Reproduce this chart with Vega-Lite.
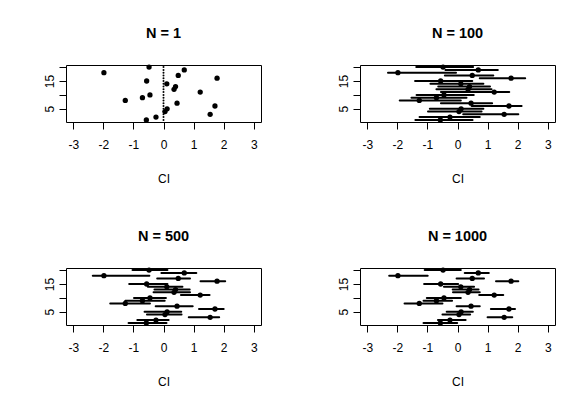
{
  "$schema": "https://vega.github.io/schema/vega-lite/v6.json",
  "padding": {"left": 42, "top": 25, "right": 5, "bottom": 5},
  "bounds": "flush",
  "columns": 2,
  "spacing": {"row": 146, "column": 99},
  "datasets": {
    "ci": [
      {"N": 1, "row": 20, "est": -0.48, "lo": 0, "hi": 0},
      {"N": 1, "row": 19, "est": 0.69, "lo": 0, "hi": 0},
      {"N": 1, "row": 18, "est": -1.98, "lo": 0, "hi": 0},
      {"N": 1, "row": 17, "est": 0.49, "lo": 0, "hi": 0},
      {"N": 1, "row": 16, "est": 1.78, "lo": 0, "hi": 0},
      {"N": 1, "row": 15, "est": -0.56, "lo": 0, "hi": 0},
      {"N": 1, "row": 14, "est": 0.11, "lo": 0, "hi": 0},
      {"N": 1, "row": 13, "est": 0.40, "lo": 0, "hi": 0},
      {"N": 1, "row": 12, "est": 0.35, "lo": 0, "hi": 0},
      {"N": 1, "row": 11, "est": 1.22, "lo": 0, "hi": 0},
      {"N": 1, "row": 10, "est": -0.45, "lo": 0, "hi": 0},
      {"N": 1, "row": 9, "est": -0.70, "lo": 0, "hi": 0},
      {"N": 1, "row": 8, "est": -1.27, "lo": 0, "hi": 0},
      {"N": 1, "row": 7, "est": 0.45, "lo": 0, "hi": 0},
      {"N": 1, "row": 6, "est": 1.71, "lo": 0, "hi": 0},
      {"N": 1, "row": 5, "est": 0.12, "lo": 0, "hi": 0},
      {"N": 1, "row": 4, "est": 0.05, "lo": 0, "hi": 0},
      {"N": 1, "row": 3, "est": 1.55, "lo": 0, "hi": 0},
      {"N": 1, "row": 2, "est": -0.25, "lo": 0, "hi": 0},
      {"N": 1, "row": 1, "est": -0.57, "lo": 0, "hi": 0},

      {"N": 100, "row": 20, "est": -0.48, "lo": -1.37, "hi": 0.52},
      {"N": 100, "row": 19, "est": 0.69, "lo": -0.40, "hi": 1.34},
      {"N": 100, "row": 18, "est": -1.98, "lo": -2.31, "hi": -0.05},
      {"N": 100, "row": 17, "est": 0.49, "lo": -0.42, "hi": 1.19},
      {"N": 100, "row": 16, "est": 1.78, "lo": 0.74, "hi": 2.25},
      {"N": 100, "row": 15, "est": -0.56, "lo": -1.41, "hi": 0.49},
      {"N": 100, "row": 14, "est": 0.11, "lo": -0.90, "hi": 0.86},
      {"N": 100, "row": 13, "est": 0.40, "lo": -0.64, "hi": 1.08},
      {"N": 100, "row": 12, "est": 0.35, "lo": -0.70, "hi": 1.13},
      {"N": 100, "row": 11, "est": 1.22, "lo": -0.55, "hi": 1.72},
      {"N": 100, "row": 10, "est": -0.45, "lo": -1.36, "hi": 0.54},
      {"N": 100, "row": 9, "est": -0.70, "lo": -1.53, "hi": 0.30},
      {"N": 100, "row": 8, "est": -1.27, "lo": -1.92, "hi": 0.11},
      {"N": 100, "row": 7, "est": 0.45, "lo": -0.55, "hi": 1.15},
      {"N": 100, "row": 6, "est": 1.71, "lo": 0.47, "hi": 2.13},
      {"N": 100, "row": 5, "est": 0.12, "lo": -0.92, "hi": 0.86},
      {"N": 100, "row": 4, "est": 0.05, "lo": -0.98, "hi": 0.80},
      {"N": 100, "row": 3, "est": 1.55, "lo": 0.19, "hi": 2.02},
      {"N": 100, "row": 2, "est": -0.25, "lo": -1.26, "hi": 0.74},
      {"N": 100, "row": 1, "est": -0.57, "lo": -1.40, "hi": 0.50},

      {"N": 500, "row": 20, "est": -0.48, "lo": -1.03, "hi": 0.13},
      {"N": 500, "row": 19, "est": 0.69, "lo": -0.07, "hi": 1.09},
      {"N": 500, "row": 18, "est": -1.98, "lo": -2.35, "hi": -0.47},
      {"N": 500, "row": 17, "est": 0.49, "lo": -0.21, "hi": 0.88},
      {"N": 500, "row": 16, "est": 1.78, "lo": 1.23, "hi": 2.05},
      {"N": 500, "row": 15, "est": -0.56, "lo": -1.14, "hi": 0.13},
      {"N": 500, "row": 14, "est": 0.11, "lo": -0.52, "hi": 0.63},
      {"N": 500, "row": 13, "est": 0.40, "lo": -0.30, "hi": 0.87},
      {"N": 500, "row": 12, "est": 0.35, "lo": -0.33, "hi": 0.88},
      {"N": 500, "row": 11, "est": 1.22, "lo": 0.58, "hi": 1.53},
      {"N": 500, "row": 10, "est": -0.45, "lo": -0.98, "hi": 0.08},
      {"N": 500, "row": 9, "est": -0.70, "lo": -1.27, "hi": 0.04},
      {"N": 500, "row": 8, "est": -1.27, "lo": -1.77, "hi": -0.45},
      {"N": 500, "row": 7, "est": 0.45, "lo": -0.26, "hi": 0.97},
      {"N": 500, "row": 6, "est": 1.71, "lo": 1.18, "hi": 2.00},
      {"N": 500, "row": 5, "est": 0.12, "lo": -0.63, "hi": 0.59},
      {"N": 500, "row": 4, "est": 0.05, "lo": -0.55, "hi": 0.60},
      {"N": 500, "row": 3, "est": 1.55, "lo": 0.84, "hi": 1.85},
      {"N": 500, "row": 2, "est": -0.25, "lo": -0.87, "hi": 0.17},
      {"N": 500, "row": 1, "est": -0.57, "lo": -1.16, "hi": 0.10},

      {"N": 1000, "row": 20, "est": -0.48, "lo": -1.09, "hi": 0.11},
      {"N": 1000, "row": 19, "est": 0.69, "lo": 0.24, "hi": 1.04},
      {"N": 1000, "row": 18, "est": -1.98, "lo": -2.27, "hi": -0.99},
      {"N": 1000, "row": 17, "est": 0.49, "lo": -0.03, "hi": 0.88},
      {"N": 1000, "row": 16, "est": 1.78, "lo": 1.28, "hi": 2.02},
      {"N": 1000, "row": 15, "est": -0.56, "lo": -1.11, "hi": 0.02},
      {"N": 1000, "row": 14, "est": 0.11, "lo": -0.45, "hi": 0.55},
      {"N": 1000, "row": 13, "est": 0.40, "lo": -0.16, "hi": 0.70},
      {"N": 1000, "row": 12, "est": 0.35, "lo": -0.15, "hi": 0.74},
      {"N": 1000, "row": 11, "est": 1.22, "lo": 0.72, "hi": 1.52},
      {"N": 1000, "row": 10, "est": -0.45, "lo": -1.02, "hi": 0.11},
      {"N": 1000, "row": 9, "est": -0.70, "lo": -1.13, "hi": -0.18},
      {"N": 1000, "row": 8, "est": -1.27, "lo": -1.76, "hi": -0.50},
      {"N": 1000, "row": 7, "est": 0.45, "lo": -0.03, "hi": 0.74},
      {"N": 1000, "row": 6, "est": 1.71, "lo": 1.11, "hi": 1.91},
      {"N": 1000, "row": 5, "est": 0.12, "lo": -0.36, "hi": 0.51},
      {"N": 1000, "row": 4, "est": 0.05, "lo": -0.50, "hi": 0.42},
      {"N": 1000, "row": 3, "est": 1.55, "lo": 1.00, "hi": 1.82},
      {"N": 1000, "row": 2, "est": -0.25, "lo": -0.65, "hi": 0.27},
      {"N": 1000, "row": 1, "est": -0.57, "lo": -1.13, "hi": -0.01}
    ]
  },
  "concat": [
    {
      "title": "N = 1",
      "width": 195,
      "height": 57,
      "data": {"name": "ci"},
      "transform": [{"filter": "datum.N == 1"}],
      "encoding": {
        "y": {"field": "row", "type": "quantitative", "scale": {"domain": [0.24, 20.76], "nice": false, "zero": false},
              "axis": {"title": null, "values": [5, 10, 15, 20], "labelOverlap": false, "labelExpr": "datum.value == 5 || datum.value == 15 ? '' + datum.value : ''"}}
      },
      "layer": [
        {
          "mark": {"type": "rule", "color": "black", "strokeWidth": 2, "strokeCap": "round"},
          "encoding": {
            "x": {"field": "lo", "type": "quantitative", "scale": {"domain": [-3.24, 3.24], "nice": false, "zero": false},
                  "axis": {"title": "CI", "values": [-3, -2, -1, 0, 1, 2, 3], "labelOverlap": false, "labelExpr": "'' + datum.value"}},
            "x2": {"field": "hi"}
          }
        },
        {
          "mark": {"type": "circle", "color": "black", "opacity": 1, "size": 28},
          "encoding": {"x": {"field": "est", "type": "quantitative", "axis": {"title": "CI", "values": [-3, -2, -1, 0, 1, 2, 3], "labelOverlap": false, "labelExpr": "'' + datum.value"}}}
        }
      ]
    },
    {
      "title": "N = 100",
      "width": 195,
      "height": 57,
      "data": {"name": "ci"},
      "transform": [{"filter": "datum.N == 100"}],
      "encoding": {
        "y": {"field": "row", "type": "quantitative", "scale": {"domain": [0.24, 20.76], "nice": false, "zero": false},
              "axis": {"title": null, "values": [5, 10, 15, 20], "labelOverlap": false, "labelExpr": "datum.value == 5 || datum.value == 15 ? '' + datum.value : ''"}}
      },
      "layer": [
        {
          "mark": {"type": "rule", "color": "black", "strokeWidth": 2, "strokeCap": "round"},
          "encoding": {
            "x": {"field": "lo", "type": "quantitative", "scale": {"domain": [-3.24, 3.24], "nice": false, "zero": false},
                  "axis": {"title": "CI", "values": [-3, -2, -1, 0, 1, 2, 3], "labelOverlap": false, "labelExpr": "'' + datum.value"}},
            "x2": {"field": "hi"}
          }
        },
        {
          "mark": {"type": "circle", "color": "black", "opacity": 1, "size": 28},
          "encoding": {"x": {"field": "est", "type": "quantitative", "axis": {"title": "CI", "values": [-3, -2, -1, 0, 1, 2, 3], "labelOverlap": false, "labelExpr": "'' + datum.value"}}}
        }
      ]
    },
    {
      "title": "N = 500",
      "width": 195,
      "height": 57,
      "data": {"name": "ci"},
      "transform": [{"filter": "datum.N == 500"}],
      "encoding": {
        "y": {"field": "row", "type": "quantitative", "scale": {"domain": [0.24, 20.76], "nice": false, "zero": false},
              "axis": {"title": null, "values": [5, 10, 15, 20], "labelOverlap": false, "labelExpr": "datum.value == 5 || datum.value == 15 ? '' + datum.value : ''"}}
      },
      "layer": [
        {
          "mark": {"type": "rule", "color": "black", "strokeWidth": 2, "strokeCap": "round"},
          "encoding": {
            "x": {"field": "lo", "type": "quantitative", "scale": {"domain": [-3.24, 3.24], "nice": false, "zero": false},
                  "axis": {"title": "CI", "values": [-3, -2, -1, 0, 1, 2, 3], "labelOverlap": false, "labelExpr": "'' + datum.value"}},
            "x2": {"field": "hi"}
          }
        },
        {
          "mark": {"type": "circle", "color": "black", "opacity": 1, "size": 28},
          "encoding": {"x": {"field": "est", "type": "quantitative", "axis": {"title": "CI", "values": [-3, -2, -1, 0, 1, 2, 3], "labelOverlap": false, "labelExpr": "'' + datum.value"}}}
        }
      ]
    },
    {
      "title": "N = 1000",
      "width": 195,
      "height": 57,
      "data": {"name": "ci"},
      "transform": [{"filter": "datum.N == 1000"}],
      "encoding": {
        "y": {"field": "row", "type": "quantitative", "scale": {"domain": [0.24, 20.76], "nice": false, "zero": false},
              "axis": {"title": null, "values": [5, 10, 15, 20], "labelOverlap": false, "labelExpr": "datum.value == 5 || datum.value == 15 ? '' + datum.value : ''"}}
      },
      "layer": [
        {
          "mark": {"type": "rule", "color": "black", "strokeWidth": 2, "strokeCap": "round"},
          "encoding": {
            "x": {"field": "lo", "type": "quantitative", "scale": {"domain": [-3.24, 3.24], "nice": false, "zero": false},
                  "axis": {"title": "CI", "values": [-3, -2, -1, 0, 1, 2, 3], "labelOverlap": false, "labelExpr": "'' + datum.value"}},
            "x2": {"field": "hi"}
          }
        },
        {
          "mark": {"type": "circle", "color": "black", "opacity": 1, "size": 28},
          "encoding": {"x": {"field": "est", "type": "quantitative", "axis": {"title": "CI", "values": [-3, -2, -1, 0, 1, 2, 3], "labelOverlap": false, "labelExpr": "'' + datum.value"}}}
        }
      ]
    }
  ],
  "config": {
    "background": "white",
    "view": {"stroke": "black", "strokeWidth": 1},
    "font": "Liberation Sans",
    "title": {"font": "Liberation Sans", "fontSize": 14.5, "fontWeight": "bold", "color": "black", "anchor": "middle", "frame": "group", "baseline": "alphabetic", "offset": 23},
    "axis": {
      "domain": false,
      "grid": false,
      "ticks": true,
      "tickColor": "black",
      "tickSize": 7,
      "tickWidth": 1,
      "labelFont": "Liberation Sans",
      "labelFontSize": 12,
      "labelColor": "black",
      "labelOverlap": false,
      "labelFlush": false,
      "titleFont": "Liberation Sans",
      "titleFontSize": 12,
      "titleFontWeight": "normal",
      "titleColor": "black"
    },
    "axisX": {"labelPadding": 10, "titlePadding": 23},
    "axisY": {"labelAngle": 270, "labelAlign": "center", "labelBaseline": "alphabetic", "labelPadding": 6}
  }
}
